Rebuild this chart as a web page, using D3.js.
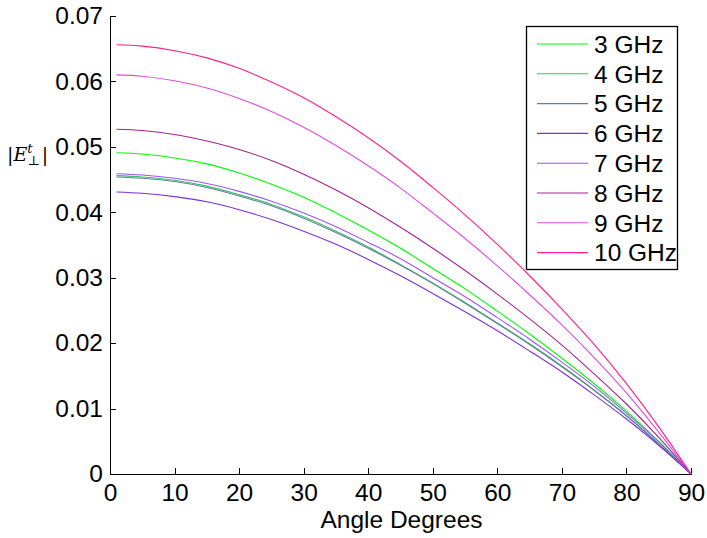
<!DOCTYPE html>
<html>
<head>
<meta charset="utf-8">
<script src="https://d3js.org/d3.v7.min.js"></script>
<style>
  body { margin: 0; background: #fff; }
  text { font-family: "Liberation Sans", Arial, Helvetica, sans-serif; fill: #000; }
  .axis path, .axis line { stroke: #000; shape-rendering: crispEdges; }
</style>
</head>
<body>
<script>
var angles = [1, 5, 10, 15, 20, 25, 30, 35, 40, 45, 50, 55, 60, 65, 70, 75, 80, 85, 90];

var ghz3  = [0.0491, 0.0489, 0.0483, 0.0474, 0.0460, 0.0443, 0.0423, 0.0399, 0.0373, 0.0345,
             0.0314, 0.0283, 0.0249, 0.0214, 0.0177, 0.0138, 0.0096, 0.0050, 0];
var ghz4  = [0.0456, 0.0454, 0.0449, 0.0440, 0.0427, 0.0412, 0.0393, 0.0371, 0.0347, 0.0320,
             0.0292, 0.0262, 0.0231, 0.0199, 0.0165, 0.0128, 0.0089, 0.0046, 0];
var ghz5  = [0.0454, 0.0452, 0.0447, 0.0438, 0.0425, 0.0410, 0.0391, 0.0369, 0.0345, 0.0319,
             0.0291, 0.0261, 0.0230, 0.0198, 0.0164, 0.0128, 0.0089, 0.0046, 0];
var ghz6  = [0.0431, 0.0429, 0.0424, 0.0416, 0.0404, 0.0389, 0.0371, 0.0351, 0.0328, 0.0303,
             0.0276, 0.0248, 0.0219, 0.0188, 0.0156, 0.0121, 0.0084, 0.0044, 0];
var ghz7  = [0.0459, 0.0457, 0.0452, 0.0444, 0.0432, 0.0417, 0.0399, 0.0378, 0.0354, 0.0329,
             0.0300, 0.0271, 0.0239, 0.0206, 0.0171, 0.0134, 0.0093, 0.0049, 0];
var ghz8  = [0.0527, 0.0525, 0.0519, 0.0509, 0.0496, 0.0479, 0.0458, 0.0434, 0.0407, 0.0377,
             0.0345, 0.0311, 0.0275, 0.0237, 0.0197, 0.0153, 0.0107, 0.0056, 0];
var ghz9  = [0.0610, 0.0608, 0.0601, 0.0590, 0.0574, 0.0554, 0.0530, 0.0502, 0.0471, 0.0437,
             0.0399, 0.0360, 0.0318, 0.0274, 0.0228, 0.0178, 0.0124, 0.0064, 0];
var ghz10 = [0.0656, 0.0654, 0.0647, 0.0636, 0.0620, 0.0599, 0.0575, 0.0546, 0.0514, 0.0478,
             0.0438, 0.0396, 0.0351, 0.0303, 0.0252, 0.0198, 0.0138, 0.0072, 0];

var seriesNames = ["3 GHz", "4 GHz", "5 GHz", "6 GHz", "7 GHz", "8 GHz", "9 GHz", "10 GHz"];
var seriesValues = [ghz3, ghz4, ghz5, ghz6, ghz7, ghz8, ghz9, ghz10];
var colors = ["#00ff00", "#33c466", "#667f99", "#7a33d6", "#9955ff", "#a3238f", "#e04ce0", "#ff1f8f"];

var xTicks = [0, 10, 20, 30, 40, 50, 60, 70, 80, 90];
var yTicks = [0, 0.01, 0.02, 0.03, 0.04, 0.05, 0.06, 0.07];

var W = 707, H = 538;
var mLeft = 110, mRight = 691, mTop = 16, mBottom = 474;
var fs = 24.5;

var svg = d3.select("body").append("svg").attr("width", W).attr("height", H);

var x = d3.scaleLinear().domain([0, 90]).range([mLeft, mRight]);
var y = d3.scaleLinear().domain([0, 0.07]).range([mBottom, mTop]);

// axes, MATLAB style ticks pointing inward
var xAxis = svg.append("g").attr("class", "axis")
    .attr("transform", "translate(0," + mBottom + ")")
    .call(d3.axisBottom(x).tickValues(xTicks).tickSizeInner(-6).tickSizeOuter(0).tickPadding(10)
        .tickFormat(d3.format("d")));
xAxis.selectAll("text").attr("font-size", fs);

var yAxis = svg.append("g").attr("class", "axis")
    .attr("transform", "translate(" + mLeft + ",0)")
    .call(d3.axisLeft(y).tickValues(yTicks).tickSizeInner(-6).tickSizeOuter(0).tickPadding(7)
        .tickFormat(function (d) { return d === 0 ? "0" : d3.format(".2f")(d); }));
yAxis.selectAll("text").attr("font-size", fs);
svg.selectAll(".axis text").attr("fill", "#000");

// curves
var line = d3.line()
    .x(function (d) { return x(d[0]); })
    .y(function (d) { return y(d[1]); })
    .curve(d3.curveCatmullRom.alpha(0.5));

seriesValues.forEach(function (vals, i) {
    svg.append("path")
        .datum(angles.map(function (a, j) { return [a, vals[j]]; }))
        .attr("fill", "none")
        .attr("stroke", colors[i])
        .attr("stroke-width", 1.1)
        .attr("d", line);
});

// axis labels
svg.append("text")
    .attr("x", (mLeft + mRight) / 2 + 1).attr("y", 528)
    .attr("text-anchor", "middle").attr("font-size", fs)
    .text("Angle Degrees");

var yl = svg.append("text")
    .attr("x", 7).attr("y", 161)
    .style("font-family", "'DejaVu Serif', 'Liberation Serif', serif")
    .attr("font-size", 19);
yl.append("tspan").text("|");
yl.append("tspan").attr("font-style", "italic").text("E");
yl.append("tspan").attr("font-style", "italic").attr("font-size", 13).attr("dy", -8).text("t");
yl.append("tspan").attr("font-size", 13).attr("dx", -5).attr("dy", 12).text("\u22a5");
yl.append("tspan").attr("dx", 2).attr("dy", -4).text("|");

// legend
var lg = svg.append("g");
lg.append("rect")
    .attr("x", 526.5).attr("y", 26.5).attr("width", 151).attr("height", 243)
    .attr("fill", "#fff").attr("stroke", "#000").attr("stroke-width", 1.3);
seriesNames.forEach(function (name, i) {
    var ry = 44 + i * 29.8;
    lg.append("line")
        .attr("x1", 537).attr("x2", 588).attr("y1", ry).attr("y2", ry)
        .attr("stroke", colors[i]).attr("stroke-width", 1.1);
    lg.append("text")
        .attr("x", 594).attr("y", ry).attr("dy", "0.36em")
        .attr("font-size", fs)
        .text(name);
});
</script>
</body>
</html>
